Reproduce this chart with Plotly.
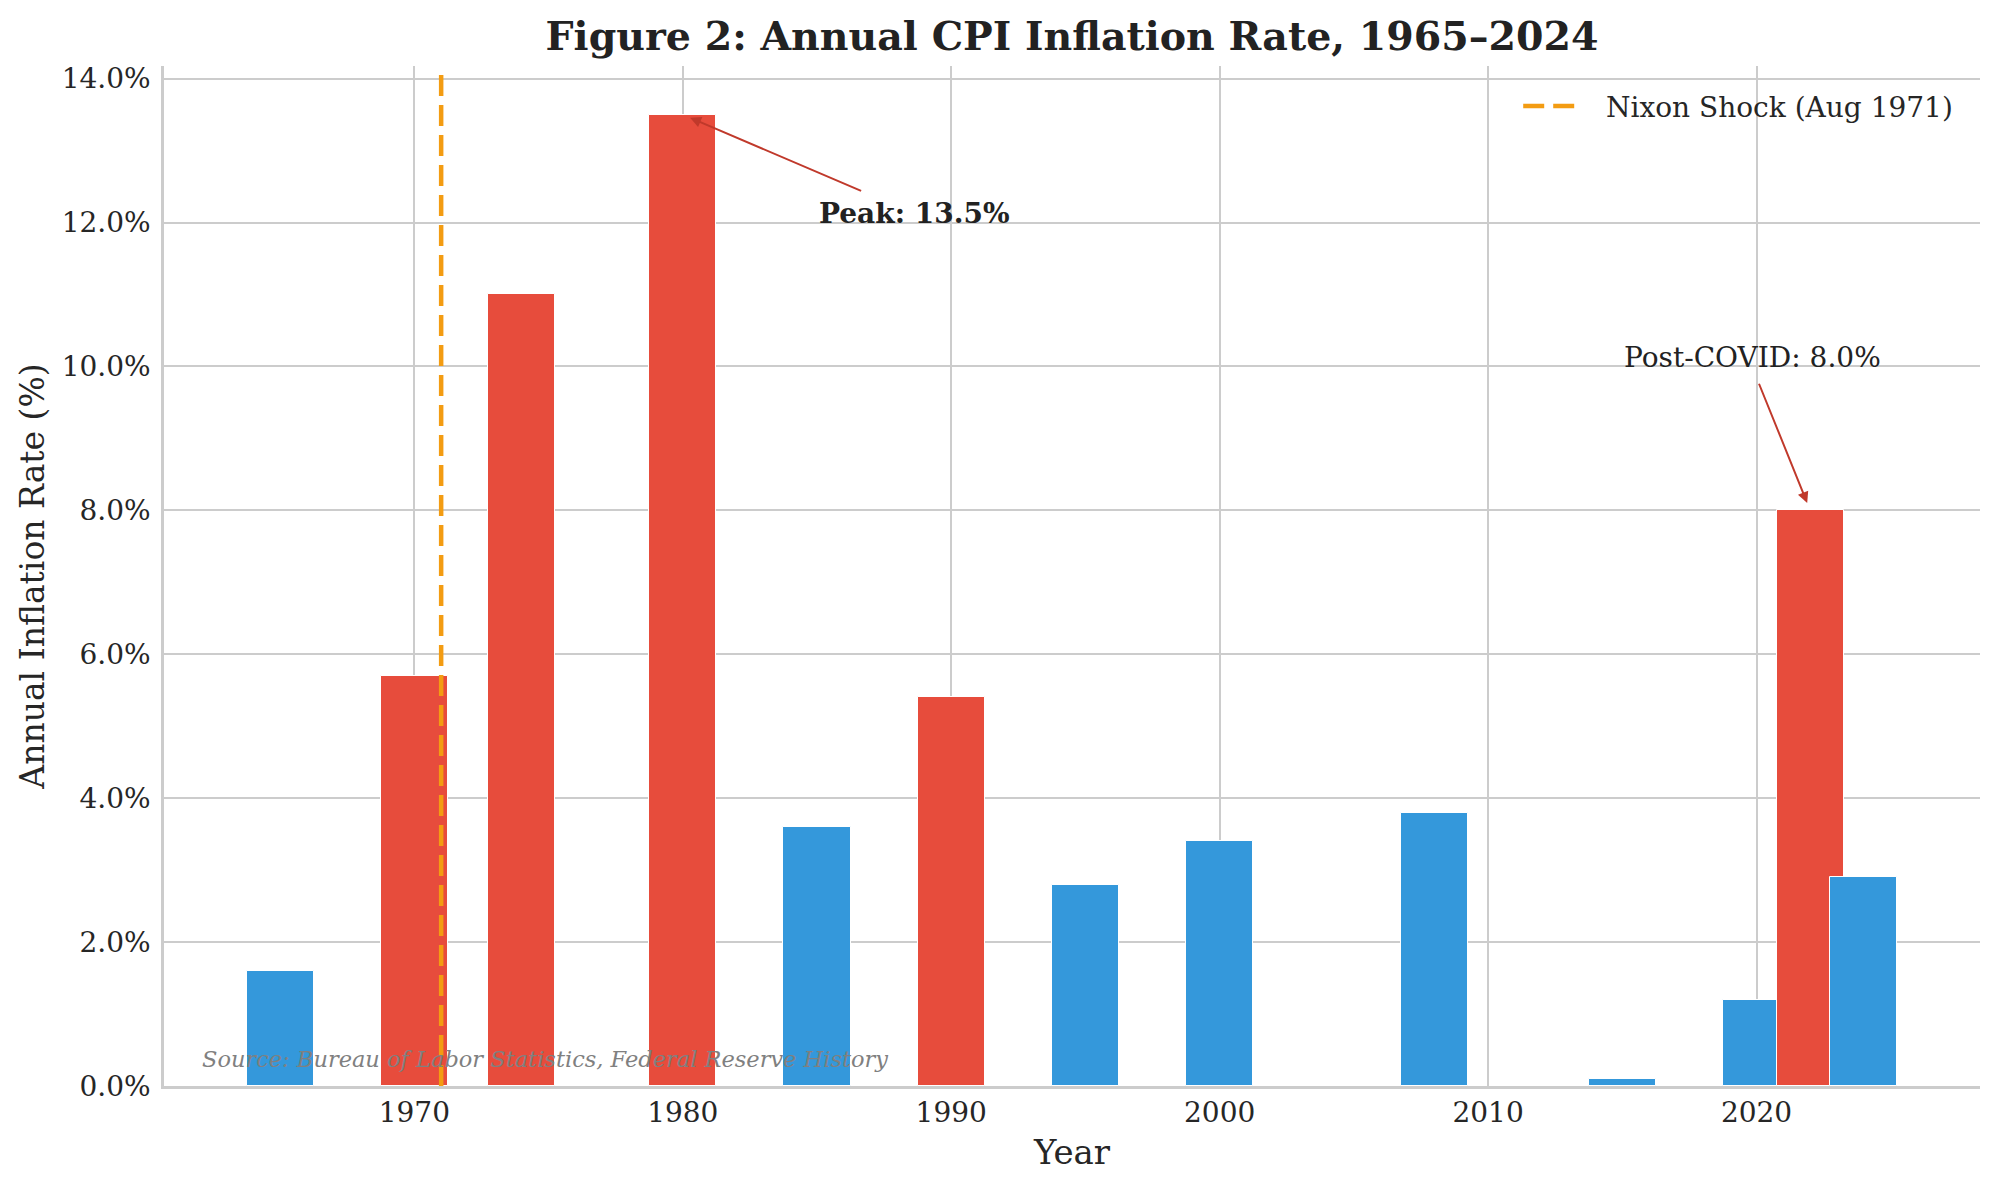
import plotly.graph_objects as go

# --- data ---
years = [1965, 1970, 1974, 1980, 1985, 1990, 1995, 2000, 2008, 2015, 2020, 2022, 2024]
cpi_rate = [1.6, 5.7, 11.0, 13.5, 3.6, 5.4, 2.8, 3.4, 3.8, 0.1, 1.2, 8.0, 2.9]
y_ticks = [0, 2, 4, 6, 8, 10, 12, 14]
x_ticks = [1970, 1980, 1990, 2000, 2010, 2020]
nixon_year = 1971
covid_year = 2022

HIGH = 5.0
RED = "#E74C3C"
BLUE = "#3498DB"
ORANGE = "#F39C12"
DARKRED = "#C0392B"
FONT = "DejaVu Serif"

bar_w = 2.5
colors = [RED if v > HIGH else BLUE for v in cpi_rate]

# matplotlib-style autoscale margins
x_lo = min(years) - bar_w / 2
x_hi = max(years) + bar_w / 2
pad = (x_hi - x_lo) * 0.05
x_range = [x_lo - pad, x_hi + pad]
y_top = max(cpi_rate) * 1.05

peak_i = cpi_rate.index(max(cpi_rate))
peak_year, peak_val = years[peak_i], cpi_rate[peak_i]
covid_val = cpi_rate[years.index(covid_year)]

fig = go.Figure()

fig.add_trace(go.Bar(
    x=years, y=cpi_rate, width=bar_w,
    marker=dict(color=colors, line=dict(color="white", width=1)),
    showlegend=False,
))

fig.add_trace(go.Scatter(
    x=[nixon_year, nixon_year], y=[0, y_top],
    mode="lines",
    line=dict(color=ORANGE, width=4.5, dash="21px,9px"),
    name="  Nixon Shock (Aug 1971)",
))

# annotations
fig.add_annotation(
    x=peak_year, y=peak_val, ax=1986.7, ay=12.43, axref="x", ayref="y",
    text="", showarrow=True, arrowhead=2, arrowsize=1.1, arrowwidth=2,
    arrowcolor=DARKRED, standoff=8,
)
fig.add_annotation(
    x=1985, y=12.13, text=f"<b>Peak: {peak_val:.1f}%</b>", showarrow=False,
    xanchor="left", yanchor="middle", font=dict(family=FONT, size=28, color="#222222"),
)
fig.add_annotation(
    x=covid_year, y=covid_val, ax=2020.07, ay=9.78, axref="x", ayref="y",
    text="", showarrow=True, arrowhead=2, arrowsize=1.1, arrowwidth=2,
    arrowcolor=DARKRED, standoff=8,
)
fig.add_annotation(
    x=2015, y=10.13, text=f"Post-COVID: {covid_val:.1f}%", showarrow=False,
    xanchor="left", yanchor="middle", font=dict(family=FONT, size=28, color="#222222"),
)
fig.add_annotation(
    xref="paper", yref="paper", x=0.02, y=0.012,
    text="<i>Source: Bureau of Labor Statistics, Federal Reserve History</i>",
    showarrow=False, xanchor="left", yanchor="bottom",
    font=dict(family=FONT, size=22.5, color="#808080"),
)

fig.update_layout(
    width=1999, height=1190,
    paper_bgcolor="white", plot_bgcolor="white",
    margin=dict(l=156, r=27, t=58, b=112),
    font=dict(family=FONT, size=28, color="#262626"),
    title=dict(
        text="<b>Figure 2: Annual CPI Inflation Rate, 1965–2024</b>",
        x=0.5, xref="paper", xanchor="center",
        y=1 - 28 / 1190, yref="container", yanchor="middle",
        font=dict(family=FONT, size=39.5, color="#222222"),
    ),
    legend=dict(
        x=0.988, y=0.985, xanchor="right", yanchor="top",
        itemwidth=60,
        bgcolor="rgba(255,255,255,0)", font=dict(family=FONT, size=28, color="#262626"),
    ),
    bargap=0,
)

fig.update_xaxes(
    range=x_range, tickvals=x_ticks, ticktext=[str(t) for t in x_ticks],
    showgrid=True, gridcolor="#cccccc", gridwidth=1.6,
    showline=True, linecolor="#cccccc", linewidth=2.5,
    zeroline=False, ticks="", ticklabelstandoff=0,
    title=dict(text="Year", font=dict(family=FONT, size=34), standoff=12),
)
fig.update_yaxes(
    range=[0, y_top], tickvals=y_ticks, ticktext=[f"{t:.1f}%" for t in y_ticks],
    showgrid=True, gridcolor="#cccccc", gridwidth=1.6,
    showline=True, linecolor="#cccccc", linewidth=2.5,
    zeroline=False, ticks="", ticklabelstandoff=5,
    title=dict(text="Annual Inflation Rate (%)", font=dict(family=FONT, size=33), standoff=8),
)

fig.write_html("out.html")
